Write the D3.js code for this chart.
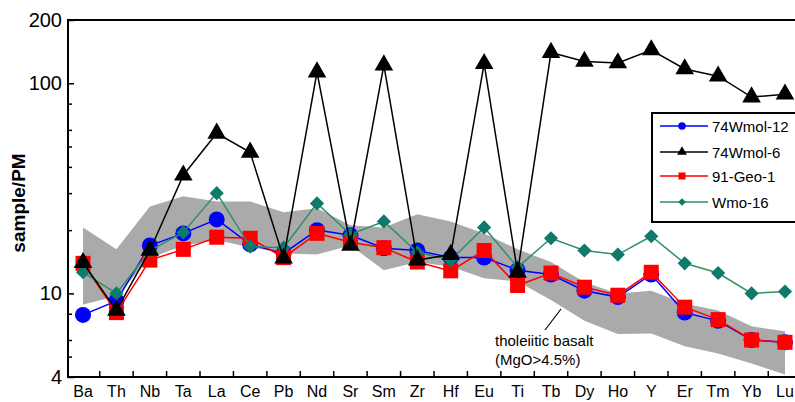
<!DOCTYPE html>
<html>
<head>
<meta charset="utf-8">
<script src="https://cdn.jsdelivr.net/npm/d3@7"></script>
<style>
  body { margin: 0; background: #fff; }
  svg { display: block; font-family: Arial, "Liberation Sans", sans-serif; }
</style>
</head>
<body>
<svg width="795" height="402"></svg>
<script>
// elements, normalised to primitive mantle
var elements = ["Ba","Th","Nb","Ta","La","Ce","Pb","Nd","Sr","Sm","Zr","Hf","Eu","Ti","Tb","Dy","Ho","Y","Er","Tm","Yb","Lu"];

var wmol12 = [7.9, 9.2, 16.9, 19.3, 22.5, 17.1, 15.5, 20.0, 18.9, 16.4, 16.0, 14.8, 14.8, 12.9, 12.3, 10.3, 9.6, 12.3, 8.1, 7.4, 6.0, 5.85];
var wmol6  = [14.0, 8.3, 16.0, 36.5, 57.8, 46.9, 14.7, 113, 16.9, 122, 14.4, 15.3, 124, 12.6, 140, 127, 125, 144, 117, 108, 86, 88.7];
var geo1   = [13.9, 8.1, 14.4, 16.2, 18.5, 18.3, 14.8, 19.3, 17.5, 16.5, 14.1, 12.8, 16.0, 10.9, 12.5, 10.7, 9.8, 12.6, 8.6, 7.5, 6.0, 5.85];
var wmo16  = [12.6, 10.0, 16.0, 19.5, 30.0, 16.7, 16.5, 26.8, 19.1, 22.0, 15.7, 14.4, 20.6, 13.3, 18.3, 16.0, 15.3, 18.7, 13.9, 12.5, 10.0, 10.2];

// tholeiitic basalt field (MgO>4.5%)
var fieldHigh = [20.6, 16.2, 25.9, 29.0, 27.4, 27.4, 24.3, 25.4, 21.1, 20.6, 23.8, 22.0, 19.3, 16.2, 14.1, 11.3, 10.0, 10.3, 8.96, 8.3, 6.97, 6.6];
var fieldLow  = [8.86, 9.7, 14.7, 16.9, 17.9, 16.6, 15.5, 15.3, 16.9, 12.9, 14.1, 13.4, 11.8, 11.4, 9.3, 7.4, 6.4, 6.45, 5.6, 5.18, 4.64, 4.11];

var yTickLabels = [4, 10, 100, 200];
var yMinorTicks = [5, 6, 8, 20, 30, 40, 50, 60, 80];

var series = [
  {name: "74Wmol-12", values: wmol12, color: "#0000ff", line: "#0000ff", shape: "circle"},
  {name: "91-Geo-1",  values: geo1,   color: "#ff0000", line: "#ff0000", shape: "square"},
  {name: "Wmo-16",    values: wmo16,  color: "#0d7a6c", line: "#2f8f6a", shape: "diamond"},
  {name: "74Wmol-6",  values: wmol6,  color: "#000000", line: "#000000", shape: "triangle"}
];
var legendOrder = ["74Wmol-12", "74Wmol-6", "91-Geo-1", "Wmo-16"];

var svg = d3.select("svg");
var plotLeft = 68, plotTop = 20, plotBottom = 377;

var x = d3.scaleBand().domain(elements).range([66.3, 801.7]).padding(0);
var cx = function(e){ return x(e) + x.bandwidth() / 2; };
var y = d3.scaleLog().domain([4, 200]).range([plotBottom, plotTop]);

// shaded field
var area = d3.area()
  .x(function(d){ return cx(d.e); })
  .y0(function(d){ return y(d.lo); })
  .y1(function(d){ return y(d.hi); });
var fieldData = elements.map(function(e, i){ return {e: e, lo: fieldLow[i], hi: fieldHigh[i]}; });
svg.append("path").datum(fieldData)
  .attr("d", area)
  .attr("fill", "#aaaaaa");

// field label + leader
svg.append("line")
  .attr("x1", 545).attr("y1", 330).attr("x2", 561).attr("y2", 309)
  .attr("stroke", "#000").attr("stroke-width", 1.2);
var lab = svg.append("text").attr("x", 495).attr("y", 346).attr("font-size", 15).attr("fill", "#000");
lab.append("tspan").attr("x", 495).text("tholeiitic basalt");
lab.append("tspan").attr("x", 495).attr("dy", 19).text("(MgO>4.5%)");

// symbols
function symbolPath(shape, big){
  if (shape === "circle") return d3.symbol(d3.symbolCircle, big ? 201 : 44)();
  if (shape === "square") return d3.symbol(d3.symbolSquare, big ? 225 : 49)();
  if (shape === "triangle") return d3.symbol(d3.symbolTriangle, big ? 150 : 42)();
  return d3.symbol(d3.symbolSquare, big ? 100 : 30)();
}

var line = d3.line()
  .x(function(d){ return cx(d.e); })
  .y(function(d){ return y(d.v); });

series.forEach(function(s){
  var pts = elements.map(function(e, i){ return {e: e, v: s.values[i]}; });
  var g = svg.append("g");
  g.append("path").datum(pts)
    .attr("d", line)
    .attr("fill", "none")
    .attr("stroke", s.line)
    .attr("stroke-width", 1.5);
  g.selectAll("path.m").data(pts).enter().append("path")
    .attr("class", "m")
    .attr("d", symbolPath(s.shape, true))
    .attr("transform", function(d){
      return "translate(" + cx(d.e) + "," + y(d.v) + ")" + (s.shape === "diamond" ? " rotate(45)" : "");
    })
    .attr("fill", s.color);
});

// axes frame
svg.append("line").attr("x1", plotLeft).attr("x2", 795).attr("y1", plotTop).attr("y2", plotTop)
  .attr("stroke", "#000").attr("stroke-width", 2);
svg.append("line").attr("x1", plotLeft).attr("x2", 795).attr("y1", plotBottom).attr("y2", plotBottom)
  .attr("stroke", "#000").attr("stroke-width", 2);
svg.append("line").attr("x1", plotLeft).attr("x2", plotLeft).attr("y1", plotTop - 1).attr("y2", plotBottom + 1)
  .attr("stroke", "#000").attr("stroke-width", 2);

// y axis labels and ticks (inward)
var yAxis = svg.append("g").attr("transform", "translate(" + plotLeft + ",0)")
  .call(d3.axisLeft(y).tickValues(yTickLabels).tickFormat(d3.format("d")).tickSize(-6).tickPadding(6));
yAxis.select(".domain").remove();
yAxis.selectAll("text").attr("font-size", 20).attr("font-family", "Arial, 'Liberation Sans', sans-serif").attr("fill", "#000");
yAxis.selectAll("line").attr("stroke-width", 1.5);

var yMinor = svg.append("g").attr("transform", "translate(" + plotLeft + ",0)")
  .call(d3.axisLeft(y).tickValues(yMinorTicks).tickFormat("").tickSize(-4));
yMinor.select(".domain").remove();
yMinor.selectAll("line").attr("stroke-width", 1.5);

// x axis labels, ticks between elements
var xAxis = svg.append("g").attr("transform", "translate(0," + plotBottom + ")")
  .call(d3.axisBottom(x).tickSize(0).tickPadding(9));
xAxis.select(".domain").remove();
xAxis.selectAll("text").attr("font-size", 16).attr("font-family", "Arial, 'Liberation Sans', sans-serif").attr("fill", "#000");
svg.append("g").selectAll("line").data(elements.slice(1)).enter().append("line")
  .attr("x1", function(e){ return x(e); }).attr("x2", function(e){ return x(e); })
  .attr("y1", plotBottom).attr("y2", plotBottom - 6)
  .attr("stroke", "#000").attr("stroke-width", 1.5);

// y title
svg.append("text")
  .attr("transform", "translate(25,203) rotate(-90)")
  .attr("text-anchor", "middle")
  .attr("font-size", 19).attr("font-weight", "bold")
  .text("sample/PM");

// legend
var lg = svg.append("g");
lg.append("rect").attr("x", 652).attr("y", 113).attr("width", 160).attr("height", 109)
  .attr("fill", "#fff").attr("stroke", "#000").attr("stroke-width", 2);
var rows = [126, 152, 176, 202];
legendOrder.forEach(function(name, i){
  var s = series.filter(function(d){ return d.name === name; })[0];
  var ry = rows[i];
  lg.append("line").attr("x1", 660).attr("x2", 708).attr("y1", ry).attr("y2", ry)
    .attr("stroke", s.line).attr("stroke-width", 1.3);
  lg.append("path").attr("d", symbolPath(s.shape, false))
    .attr("transform", "translate(682," + ry + ")" + (s.shape === "diamond" ? " rotate(45)" : ""))
    .attr("fill", s.color);
  lg.append("text").attr("x", 712).attr("y", ry + 5.5).attr("font-size", 15).text(name);
});
</script>
</body>
</html>
